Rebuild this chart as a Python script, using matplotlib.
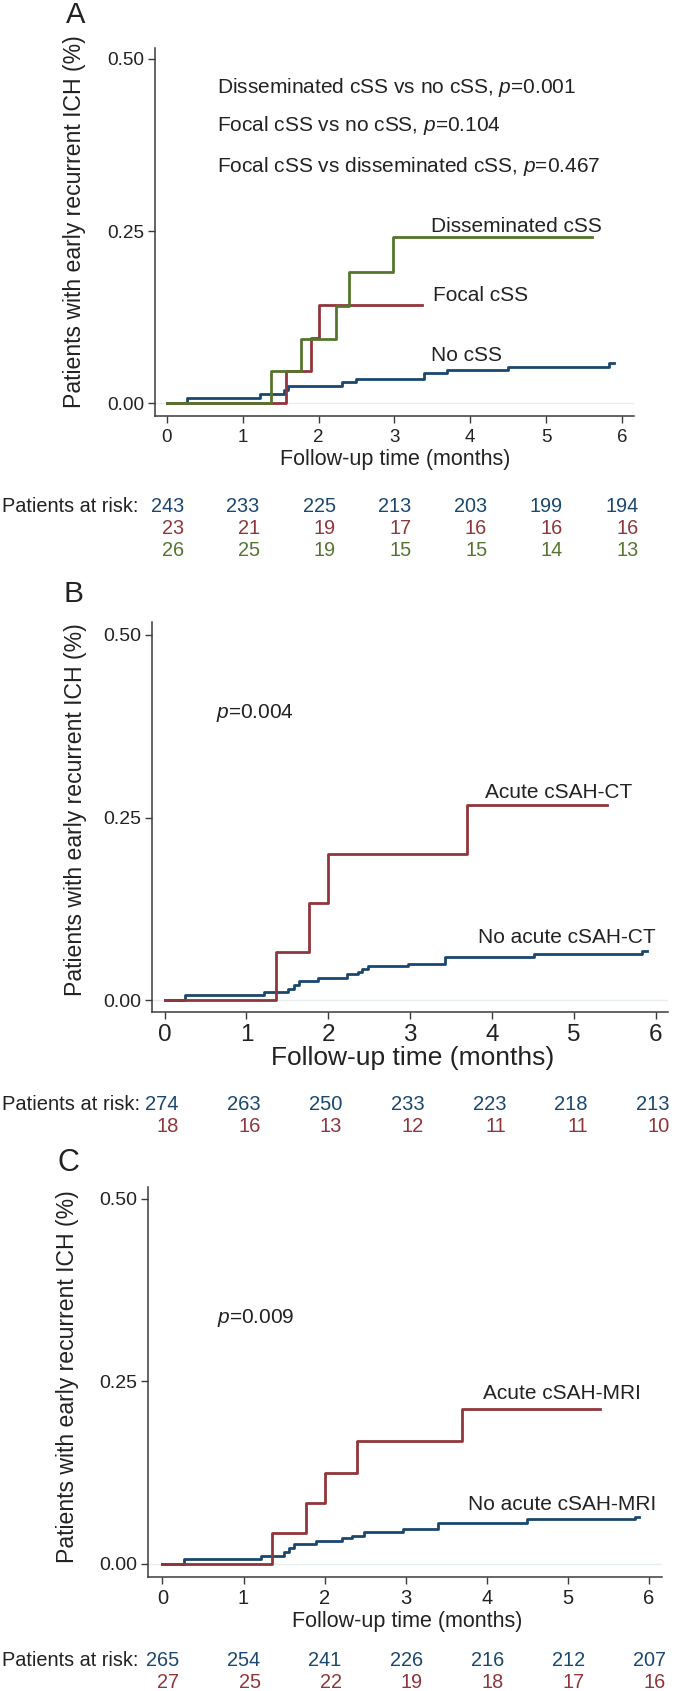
import matplotlib
matplotlib.use('Agg')
import matplotlib.pyplot as plt
import matplotlib.transforms as mtransforms

plt.rcParams['mathtext.fontset'] = 'custom'
plt.rcParams['mathtext.rm'] = 'Liberation Sans'
plt.rcParams['mathtext.it'] = 'Liberation Sans:italic'

W, H = 674, 1691
NAVY = '#1A476F'
MAROON = '#90353B'
GREEN = '#55752F'
FONT = ['Liberation Sans', 'DejaVu Sans']
INK = '#222222'

# ---- panel A: cSS groups (time in months, cumulative proportion)
a_no_t = [0, 0.27, 1.23, 1.55, 1.60, 2.31, 2.50, 3.39, 3.70, 4.50, 5.83, 5.89]
a_no_y = [0, 0.008, 0.013, 0.019, 0.025, 0.030, 0.035, 0.043, 0.048, 0.0525, 0.058, 0.058]
a_focal_t = [0, 1.57, 1.90, 2.00, 3.37]
a_focal_y = [0, 0.047, 0.094, 0.143, 0.143]
a_dis_t = [0, 1.37, 1.77, 2.23, 2.40, 2.98, 5.60]
a_dis_y = [0, 0.046, 0.0925, 0.1416, 0.1907, 0.241, 0.241]
a_risk_no = [243, 233, 225, 213, 203, 199, 194]
a_risk_focal = [23, 21, 19, 17, 16, 16, 16]
a_risk_dis = [26, 25, 19, 15, 15, 14, 13]
a_pvals = ['Disseminated cSS vs no cSS, $p$=0.001',
           'Focal cSS vs no cSS, $p$=0.104',
           'Focal cSS vs disseminated cSS, $p$=0.467']

# ---- panel B: acute cSAH on CT
b_no_t = [0, 0.25, 1.22, 1.51, 1.58, 1.64, 1.88, 2.23, 2.36, 2.41, 2.49, 2.97, 3.42, 4.51, 5.83, 5.89]
b_no_y = [0, 0.0068, 0.0105, 0.015, 0.021, 0.0265, 0.0306, 0.035, 0.0388, 0.042, 0.0466, 0.050, 0.059, 0.0626, 0.067, 0.067]
b_acute_t = [0, 1.36, 1.77, 2.00, 3.70, 5.40]
b_acute_y = [0, 0.066, 0.133, 0.200, 0.267, 0.267]
b_risk_no = [274, 263, 250, 233, 223, 218, 213]
b_risk_acute = [18, 16, 13, 12, 11, 11, 10]

# ---- panel C: acute cSAH on MRI
c_no_t = [0, 0.27, 1.22, 1.50, 1.56, 1.62, 1.89, 2.22, 2.34, 2.48, 2.97, 3.40, 4.49, 5.83, 5.88]
c_no_y = [0, 0.0068, 0.011, 0.016, 0.022, 0.0274, 0.0315, 0.035, 0.0388, 0.0434, 0.0475, 0.0566, 0.061, 0.065, 0.065]
c_acute_t = [0, 1.35, 1.77, 2.00, 2.40, 3.70, 5.40]
c_acute_y = [0, 0.042, 0.083, 0.124, 0.1685, 0.212, 0.212]
c_risk_no = [265, 254, 241, 226, 216, 212, 207]
c_risk_acute = [27, 25, 22, 19, 18, 17, 16]

risk_times = [0, 1, 2, 3, 4, 5, 6]
yticks = [0, 0.25, 0.5]
yticklabels = ['0.00', '0.25', '0.50']

fig = plt.figure(figsize=(W / 100, H / 100), dpi=100)


def add_panel(left, top, right, bottom):
    # box given in pixels of the final image
    return fig.add_axes([left / W, 1 - bottom / H, (right - left) / W, (bottom - top) / H])


def style_axes(ax, xlim, ylim, xsize, ysize):
    ax.set_xlim(*xlim)
    ax.set_ylim(*ylim)
    for side in ['top', 'right']:
        ax.spines[side].set_visible(False)
    for side in ['left', 'bottom']:
        ax.spines[side].set_color('#3a3a3a')
        ax.spines[side].set_linewidth(1.1)
    ax.axhline(0, color='#e6eef0', lw=1.0, zorder=0)
    ax.set_xticks(risk_times)
    ax.set_yticks(yticks)
    ax.set_yticklabels(yticklabels)
    ax.tick_params(axis='both', direction='out', length=5, width=1.0, color='#3a3a3a')
    ax.tick_params(axis='x', labelsize=xsize, pad=4)
    ax.tick_params(axis='y', labelsize=ysize, pad=3)
    for lab in ax.get_xticklabels() + ax.get_yticklabels():
        lab.set_family(FONT)
        lab.set_color(INK)


def risk_rows(ax, rows, colors, ys, size, shift=17):
    trans = mtransforms.blended_transform_factory(ax.transData, fig.transFigure)
    trans = mtransforms.offset_copy(trans, fig=fig, x=shift, y=0, units='dots')
    for row, col, ypx in zip(rows, colors, ys):
        for t, n in zip(risk_times, row):
            ax.text(t, 1 - ypx / H, str(n), transform=trans, ha='right', va='center',
                    color=col, fontsize=size, family=FONT)
    fig.text(2 / W, 1 - ys[0] / H, 'Patients at risk:', ha='left', va='center',
             fontsize=size, family=FONT, color=INK)


def side_texts(letter, lpos, lsize, ylab_pos, xlab_pos, xlab_size):
    fig.text(lpos[0] / W, 1 - lpos[1] / H, letter, ha='center', va='center',
             fontsize=lsize, family=FONT, color=INK)
    fig.text(ylab_pos[0] / W, 1 - ylab_pos[1] / H, 'Patients with early recurrent ICH (%)',
             rotation=90, ha='center', va='center', fontsize=16.6, family=FONT, color=INK)
    fig.text(xlab_pos[0] / W, 1 - xlab_pos[1] / H, 'Follow-up time (months)',
             ha='center', va='center', fontsize=xlab_size, family=FONT, color=INK)


LW = 2.0
txt = dict(fontsize=15, family=FONT, color=INK, va='center', ha='left')

# ---------------- panel A
axA = add_panel(155, 48, 634, 416)
style_axes(axA, (-0.156, 6.16), (-0.0188, 0.5159), 13.5, 13.7)
axA.step(a_no_t, a_no_y, where='post', color=NAVY, lw=LW)
axA.step(a_focal_t, a_focal_y, where='post', color=MAROON, lw=LW)
axA.step(a_dis_t, a_dis_y, where='post', color=GREEN, lw=LW)
for ytxt, s in zip([0.458, 0.403, 0.344], a_pvals):
    axA.text(0.66, ytxt, s, **txt)
axA.text(3.48, 0.257, 'Disseminated cSS', **txt)
axA.text(3.51, 0.156, 'Focal cSS', **txt)
axA.text(3.48, 0.069, 'No cSS', **txt)
side_texts('A', (76, 15), 21, (75, 222), (395, 460), 15.5)
risk_rows(axA, [a_risk_no, a_risk_focal, a_risk_dis], [NAVY, MAROON, GREEN], [507, 529, 551], 14.3)

# ---------------- panel B
axB = add_panel(152, 622, 668, 1011.7)
style_axes(axB, (-0.154, 6.15), (-0.016, 0.5178), 17.5, 14)
axB.step(b_no_t, b_no_y, where='post', color=NAVY, lw=LW)
axB.step(b_acute_t, b_acute_y, where='post', color=MAROON, lw=LW)
axB.text(0.626, 0.393, '$p$=0.004', **txt)
axB.text(3.91, 0.2836, 'Acute cSAH-CT', **txt)
axB.text(3.83, 0.085, 'No acute cSAH-CT', **txt)
side_texts('B', (74, 594), 21.5, (76, 810), (413, 1058), 19)
risk_rows(axB, [b_risk_no, b_risk_acute], [NAVY, MAROON], [1105, 1127], 14.5, shift=14)

# ---------------- panel C
axC = add_panel(148, 1186.7, 662, 1576.7)
style_axes(axC, (-0.178, 6.16), (-0.0174, 0.5168), 14.5, 14)
axC.step(c_no_t, c_no_y, where='post', color=NAVY, lw=LW)
axC.step(c_acute_t, c_acute_y, where='post', color=MAROON, lw=LW)
axC.text(0.676, 0.3375, '$p$=0.009', **txt)
axC.text(3.95, 0.234, 'Acute cSAH-MRI', **txt)
axC.text(3.77, 0.081, 'No acute cSAH-MRI', **txt)
side_texts('C', (68, 1163), 22, (68, 1377), (407, 1622), 15.5)
risk_rows(axC, [c_risk_no, c_risk_acute], [NAVY, MAROON], [1660, 1682], 14.3)

fig.savefig('out.png', dpi=100)
